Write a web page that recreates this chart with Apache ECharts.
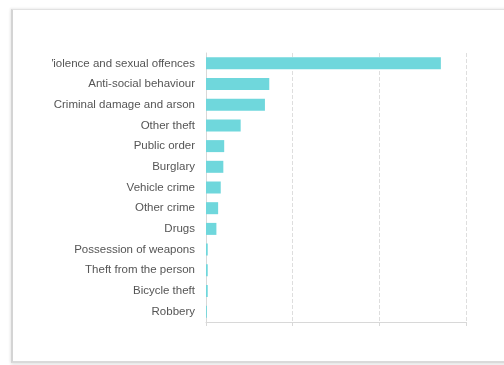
<!DOCTYPE html>
<html>
<head>
<meta charset="utf-8">
<script src="https://cdn.jsdelivr.net/npm/echarts@6/dist/echarts.min.js"></script>
<style>
html,body{margin:0;padding:0;background:#fff;width:504px;height:365px;overflow:hidden;}
#card{position:absolute;left:11px;top:9px;width:520px;height:351px;background:#fff;border-left:2px solid #d4d4d4;border-top:1px solid #e2e2e2;border-bottom:2px solid #dadada;box-shadow:-1px -1px 2px #eee, 0 2px 3px #e6e6e6;}
#chart{position:absolute;left:52px;top:0;width:452px;height:365px;}
</style>
</head>
<body>
<div id="card"></div>
<div id="chart"></div>
<script>
var categories = ["Violence and sexual offences","Anti-social behaviour","Criminal damage and arson","Other theft","Public order","Burglary","Vehicle crime","Other crime","Drugs","Possession of weapons","Theft from the person","Bicycle theft","Robbery"];
var values = [271,73,68,40,21,20,17,14,12,2,2,2,1];
var xTicks = [0,100,200,300];

var chart = echarts.init(document.getElementById('chart'), null, {renderer:'canvas'});
chart.setOption({
  animation:false,
  grid:{left:154,right:38,top:53,bottom:43,containLabel:false,outerBoundsMode:'none'},
  xAxis:{type:'value',min:xTicks[0],max:xTicks[xTicks.length-1],interval:100,
    axisLabel:{show:false},
    axisLine:{show:true,lineStyle:{color:'#d8d8d8'}},
    axisTick:{show:true,length:4,lineStyle:{color:'#d8d8d8'}},
    splitLine:{show:true,lineStyle:{type:'dashed',color:'#dedede'}}},
  yAxis:{type:'category',inverse:true,data:categories,
    axisLine:{show:true,lineStyle:{color:'#d8d8d8'}},
    axisTick:{show:false},
    axisLabel:{color:'#555',fontSize:11.5,fontFamily:'Liberation Sans, Arial, sans-serif',margin:11}},
  series:[{type:'bar',data:values,barWidth:'58%',itemStyle:{color:'#6fd7dc'}}]
});
</script>
</body>
</html>
